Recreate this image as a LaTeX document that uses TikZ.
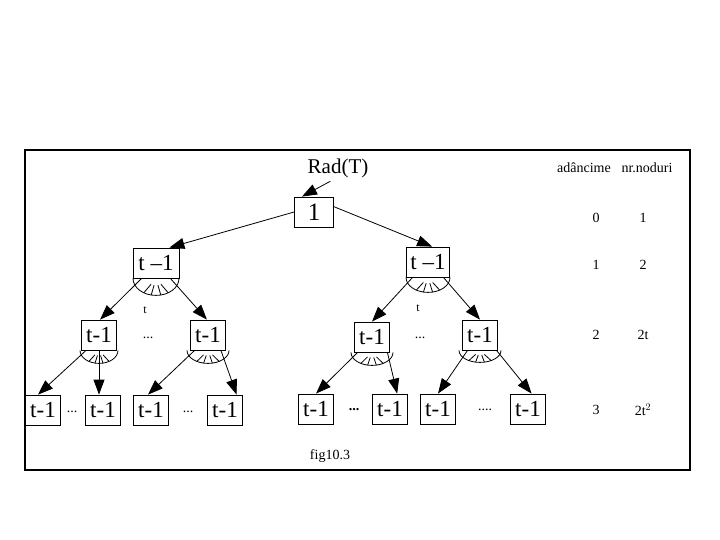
\documentclass[tikz,border=0pt]{standalone}
\usepackage{fontspec}
\setmainfont{Liberation Serif}
\usepackage{tikz}
\usetikzlibrary{arrows.meta,calc}

% fan of t edges below a node: #1 node, #2 x radius, #3 y radius
\newcommand{\fanarc}[3]{
  \draw ($(#1.south)+(-#2,0)$) arc[start angle=180, end angle=0, x radius=#2, y radius=#3];
  \foreach \a in {58,78,102,122}
    \draw ($(#1.south)+(\a:#2 and #3)$) -- ($(#1.south)+(\a:0.4*#2 and 0.4*#3)$);
}

\begin{document}
\begin{tikzpicture}[x=1pt, y=-1pt, line width=0.8pt,
  cell/.style={draw, minimum width=35pt, minimum height=30pt, inner sep=0pt,
    font=\fontsize{23}{23}\selectfont},
  arr/.style={-{Triangle[length=15pt,width=11pt]}},
  lbl/.style={font=\fontsize{14}{14}\selectfont}]
  \useasboundingbox (0,0) rectangle (720,540);
  % frame
  \draw[line width=1.2pt] (25,150) rectangle (690,470);
  % root and level 1
  \node[cell, minimum width=39pt, font=\fontsize{25}{25}\selectfont] (root) at (314,212) {1};
  \node[font=\fontsize{21}{21}\selectfont] (rad) at (338,168) {Rad(T)};
  \node[cell, minimum width=46pt] (l1a) at (156,263) {t –1};
  \node[cell, minimum width=43pt] (l1b) at (428,262) {t –1};
  % level 2
  \node[cell] (l2a) at (99,335) {t-1};
  \node[cell] (l2b) at (208,335) {t-1};
  \node[cell] (l2c) at (372,337) {t-1};
  \node[cell] (l2d) at (480,335) {t-1};
  % level 3
  \node[cell] (l3a) at (43,410) {t-1};
  \node[cell] (l3b) at (103,410) {t-1};
  \node[cell] (l3c) at (151,410) {t-1};
  \node[cell] (l3d) at (225,410) {t-1};
  \node[cell] (l3e) at (316,409) {t-1};
  \node[cell] (l3f) at (390,409) {t-1};
  \node[cell] (l3g) at (438,409) {t-1};
  \node[cell] (l3h) at (528,409) {t-1};
  % dots and labels
  \node[lbl] (dotsa) at (148,338) {...};
  \node[lbl] (dotsb) at (420,338) {...};
  \node[lbl] (dotsc) at (72,412) {...};
  \node[lbl] (dotsd) at (188,412) {...};
  \node[lbl] (dotse) at (354,410) {\textbf{...}};
  \node[lbl] (dotsf) at (485,410) {....};
  \node[font=\fontsize{12}{12}\selectfont] (ta) at (145,310) {t};
  \node[font=\fontsize{12}{12}\selectfont] (tb) at (418,308) {t};
  \node[lbl] (fig) at (330,456) {fig10.3};
  % fans
  \fanarc{l1a}{23}{17}
  \fanarc{l1b}{22}{15}
  \fanarc{l2a}{19}{13}
  \fanarc{l2b}{21}{13}
  \fanarc{l2c}{21}{13}
  \fanarc{l2d}{21}{12}
  % connectors
  \draw[arr] (rad.240) -- (root.128);
  \draw[arr] (root.west) -- (l1a.49);
  \draw[arr] (root.15) -- (l1b.75);
  \draw[arr] (l1a.227) -- (l2a.86);
  \draw[arr] (l1a.313) -- (l2b.94);
  \draw[arr] (l1b.225) -- (l2c.north);
  \draw[arr] (l1b.315) -- (l2d.north);
  \draw[arr] (l2a.230) -- (l3a.108);
  \draw[arr] (l2a.south) -- (l2a.south |- l3b.north);
  \draw[arr] (l2b.229) -- (l3c.101);
  \draw[arr] (l2b.310) -- (l3d.53);
  \draw[arr] (l2c.227) -- (l3e.north);
  \draw[arr] (l2c.315) -- (l3f.65);
  \draw[arr] (l2d.231) -- (l3g.north);
  \draw[arr] (l2d.317) -- (l3h.77);
  % table of depths
  \node[lbl] (hdepth) at (584,168) {adâncime};
  \node[lbl] (hcount) at (647,168) {nr.noduri};
  \foreach \d/\n/\yy in {0/1/218, 1/2/265, 2/2t/335, 3/2t$^2$/410} {
    \node[lbl] (d\d) at (596,\yy) {\d};
    \node[lbl] (n\d) at (643,\yy) {\n};
  }
\end{tikzpicture}
\end{document}
